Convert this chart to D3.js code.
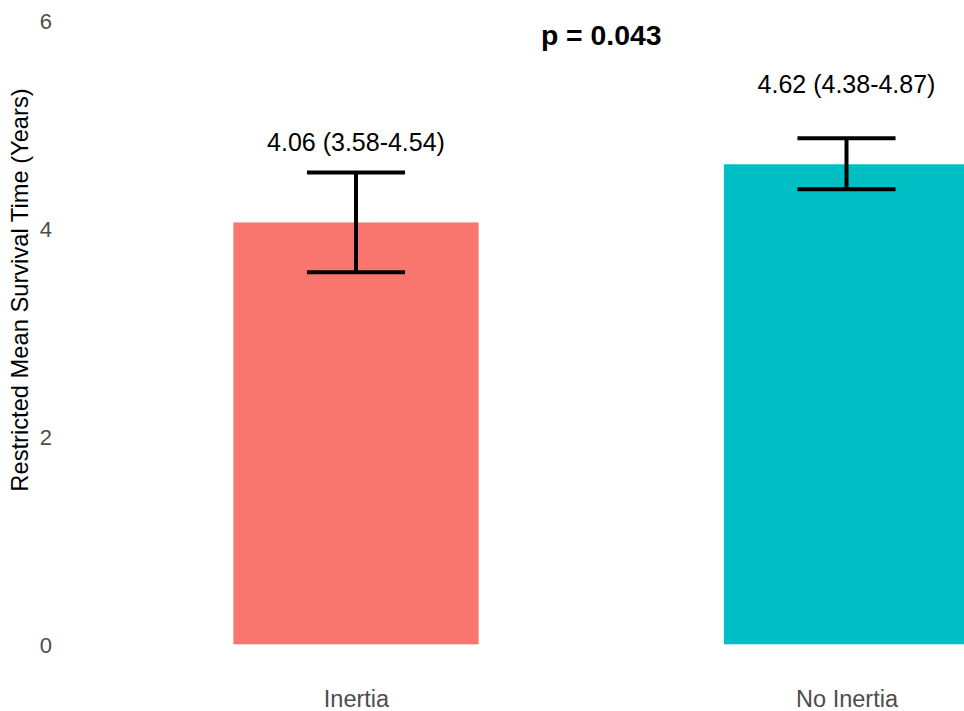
<!DOCTYPE html>
<html>
<head>
<meta charset="utf-8">
<script src="https://cdn.jsdelivr.net/npm/d3@7"></script>
<style>
  html, body { margin: 0; padding: 0; background: #fff; }
  svg { display: block; }
  text { font-family: "Liberation Sans", Arial, Helvetica, sans-serif; }
</style>
</head>
<body>
<svg id="chart" width="964" height="711"></svg>
<script>
// Restricted mean survival time by group, with 95% CI
const groups = ["Inertia", "No Inertia"];
const rmst = [4.06, 4.62];
const lower = [3.58, 4.38];
const upper = [4.54, 4.87];
const fills = ["#F8766D", "#00BFC4"];
const yTicks = [0, 2, 4, 6];
const pLabel = "p = 0.043";

const width = 964, height = 711;
const svg = d3.select("#chart");
const fontFamily = "Liberation Sans, Arial, sans-serif";

// Discrete x positions 1..n on a continuous scale (padding of 0.6 on each side)
const x = d3.scaleLinear().domain([1, 2]).range([356, 846.5]);
const y = d3.scaleLinear().domain([0, 6]).range([644.3, 20.9]);

const barWidth = 0.5, capWidth = 0.2;
const bw = x(1 + barWidth) - x(1);
const cw = x(1 + capWidth) - x(1);

const data = groups.map((g, i) => ({
  group: g, pos: i + 1, value: rmst[i], lo: lower[i], hi: upper[i], fill: fills[i]
}));

// Bars
svg.append("g").selectAll("rect").data(data).join("rect")
  .attr("x", d => x(d.pos) - bw / 2)
  .attr("width", bw)
  .attr("y", d => y(d.value))
  .attr("height", d => y(0) - y(d.value))
  .attr("fill", d => d.fill);

// Error bars
const eb = svg.append("g").attr("stroke", "#000").attr("stroke-width", 4).attr("fill", "none");
data.forEach(d => {
  eb.append("line").attr("x1", x(d.pos)).attr("x2", x(d.pos)).attr("y1", y(d.lo)).attr("y2", y(d.hi));
  eb.append("line").attr("x1", x(d.pos) - cw / 2).attr("x2", x(d.pos) + cw / 2).attr("y1", y(d.hi)).attr("y2", y(d.hi));
  eb.append("line").attr("x1", x(d.pos) - cw / 2).attr("x2", x(d.pos) + cw / 2).attr("y1", y(d.lo)).attr("y2", y(d.lo));
});

// Value labels above each bar
svg.append("g").selectAll("text").data(data).join("text")
  .attr("x", d => x(d.pos))
  .attr("y", d => y(d.value + 0.69))
  .attr("text-anchor", "middle")
  .attr("font-size", 25)
  .attr("fill", "#000")
  .text(d => `${d.value.toFixed(2)} (${d.lo.toFixed(2)}-${d.hi.toFixed(2)})`);

// p-value annotation
svg.append("text")
  .attr("x", x(1.5))
  .attr("y", 45)
  .attr("text-anchor", "middle")
  .attr("font-size", 28.4)
  .attr("font-weight", "bold")
  .attr("fill", "#000")
  .text(pLabel);

// Y axis tick labels (no lines)
const yAxis = d3.axisLeft(y).tickValues(yTicks).tickFormat(d3.format("d")).tickSize(0).tickPadding(0);
const gy = svg.append("g").attr("transform", "translate(52,0)").call(yAxis);
gy.select(".domain").remove();
gy.attr("font-family", fontFamily);
gy.selectAll("text")
  .attr("font-size", 22)
  .attr("fill", "#4D4D4D")
  .attr("dy", "0.36em");

// X axis category labels
const xAxis = d3.axisBottom(x).tickValues([1, 2]).tickFormat(d => groups[d - 1]).tickSize(0).tickPadding(0);
const gx = svg.append("g").attr("transform", "translate(0,707)").call(xAxis);
gx.select(".domain").remove();
gx.attr("font-family", fontFamily);
gx.selectAll("text")
  .attr("font-size", 23.5)
  .attr("fill", "#4D4D4D")
  .attr("dy", 0);

// Y axis title
svg.append("text")
  .attr("transform", "translate(28,290) rotate(-90)")
  .attr("text-anchor", "middle")
  .attr("font-size", 23.7)
  .attr("fill", "#000")
  .text("Restricted Mean Survival Time (Years)");
</script>
</body>
</html>
